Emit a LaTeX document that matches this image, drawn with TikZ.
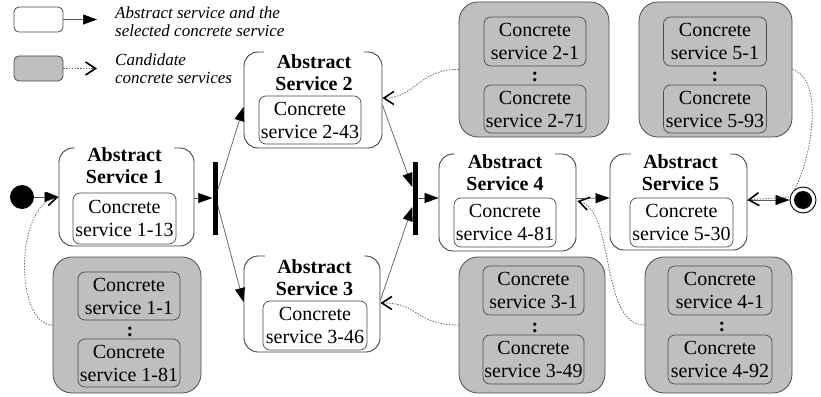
\documentclass[tikz,border=0pt]{standalone}
\usepackage{fontspec}
\setmainfont{Liberation Serif}
\usetikzlibrary{arrows.meta,calc}

\tikzset{
  txt/.style={font=\fontsize{20}{23}\selectfont, align=center, inner sep=0pt},
  absbox/.style={draw=black!75, line width=0.9pt, rounded corners=14pt, fill=white, inner sep=0pt},
  abstitle/.style={txt, font=\bfseries\fontsize{20}{22}\selectfont, fill=white, inner xsep=11pt, inner ysep=4pt},
  concbox/.style={txt, draw=black!70, line width=0.7pt, rounded corners=7pt},
  candbox/.style={draw=black!70, line width=0.8pt, rounded corners=19pt, fill=black!25, inner sep=0pt},
  dots/.style={font=\bfseries\fontsize{20}{20}\selectfont, inner sep=0pt},
  syncbar/.style={fill=black, minimum width=5pt, minimum height=73pt, inner sep=0pt},
  flow/.style={draw=black!65, line width=0.7pt, -{Triangle[length=14pt,width=10pt,fill=black,color=black]}},
  cand/.style={draw=black!60, line width=0.8pt, dash pattern=on 1.4pt off 1.4pt,
    -{Straight Barb[length=10pt,width=13pt,line width=1.6pt,color=black]}},
  legtext/.style={font=\itshape\fontsize{17}{18}\selectfont, align=left, inner sep=0pt, anchor=north west},
}

\begin{document}
\begin{tikzpicture}[x=1pt, y=-1pt]
\useasboundingbox (0,0) rectangle (821,396);

% legend
\node[draw=black!70, line width=0.8pt, rounded corners=5pt, fill=white,
      minimum width=49pt, minimum height=25pt, inner sep=0pt] (legsel) at (38.5,19.5) {};
\coordinate (legseltip) at (97,19.5);
\draw[flow] (legsel) -- (legseltip);
\node[legtext] (legseltxt) at (115,6.4) {Abstract service and the\\selected concrete service};

\node[draw=black!70, line width=0.8pt, rounded corners=5pt, fill=black!25,
      minimum width=49pt, minimum height=25pt, inner sep=0pt] (legcand) at (38.5,68.5) {};
\coordinate (legcandtip) at (97,68.5);
\draw[cand] (legcand) -- (legcandtip);
\node[legtext] (legcandtxt) at (115,53.4) {Candidate\\concrete services};

% initial and final states
\node[circle, fill=black, minimum size=24pt, inner sep=0pt] (start) at (22,197) {};
\node[circle, draw=black, line width=0.9pt, fill=white, minimum size=26pt, inner sep=0pt] (end) at (803,200) {};
\node[circle, fill=black, minimum size=18pt, inner sep=0pt] (endin) at (803,200) {};

% abstract services with their selected concrete service
\node[absbox, minimum width=135pt, minimum height=98pt] (as1) at (126.5,197) {};
\node[abstitle] (as1t) at (124.5,165.2) {Abstract\\Service 1};
\node[concbox, minimum width=103pt, minimum height=51pt] (as1c) at (124.5,218.5) {Concrete\\service 1-13};

\node[absbox, minimum width=138pt, minimum height=96pt] (as2) at (313,100) {};
\node[abstitle] (as2t) at (314,72.2) {Abstract\\Service 2};
\node[concbox, minimum width=102pt, minimum height=48pt] (as2c) at (310,120) {Concrete\\service 2-43};

\node[absbox, minimum width=136pt, minimum height=96pt] (as3) at (312,304) {};
\node[abstitle] (as3t) at (314.5,277.2) {Abstract\\Service 3};
\node[concbox, minimum width=104pt, minimum height=49pt] (as3c) at (315,325.5) {Concrete\\service 3-46};

\node[absbox, minimum width=137pt, minimum height=97pt] (as4) at (507.5,202.5) {};
\node[abstitle] (as4t) at (505,172.7) {Abstract\\Service 4};
\node[concbox, minimum width=102pt, minimum height=49pt] (as4c) at (505,222.5) {Concrete\\service 4-81};

\node[absbox, minimum width=137pt, minimum height=96pt] (as5) at (678.5,202) {};
\node[abstitle] (as5t) at (680.5,173) {Abstract\\Service 5};
\node[concbox, minimum width=103pt, minimum height=49pt] (as5c) at (681.5,222.5) {Concrete\\service 5-30};

% fork and join bars
\node[syncbar] (bar1) at (215,198) {};
\node[syncbar] (bar2) at (415,198) {};

% candidate concrete services
\node[candbox, minimum width=148pt, minimum height=136pt] (g1) at (127,325) {};
\node[concbox, minimum width=102pt, minimum height=48pt] (g1a) at (129,296) {Concrete\\service 1-1};
\node[dots] (g1d) at (130,332) {:};
\node[concbox, minimum width=102pt, minimum height=48pt] (g1b) at (129,363) {Concrete\\service 1-81};

\node[candbox, minimum width=150pt, minimum height=135pt] (g2) at (534,69.5) {};
\node[concbox, minimum width=102pt, minimum height=49pt] (g2a) at (535,41.5) {Concrete\\service 2-1};
\node[dots] (g2d) at (535,77) {:};
\node[concbox, minimum width=102pt, minimum height=48pt] (g2b) at (535,109) {Concrete\\service 2-71};

\node[candbox, minimum width=146pt, minimum height=136pt] (g3) at (532,325) {};
\node[concbox, minimum width=101pt, minimum height=49pt] (g3a) at (533.5,290.5) {Concrete\\service 3-1};
\node[dots] (g3d) at (535,328) {:};
\node[concbox, minimum width=101pt, minimum height=49pt] (g3b) at (533.5,359.5) {Concrete\\service 3-49};

\node[candbox, minimum width=147pt, minimum height=136pt] (g4) at (718.5,325) {};
\node[concbox, minimum width=104pt, minimum height=49pt] (g4a) at (720,290.5) {Concrete\\service 4-1};
\node[dots] (g4d) at (722,327) {:};
\node[concbox, minimum width=104pt, minimum height=49pt] (g4b) at (720,359.5) {Concrete\\service 4-92};

\node[candbox, minimum width=153pt, minimum height=135pt] (g5) at (715.5,69.5) {};
\node[concbox, minimum width=103pt, minimum height=49pt] (g5a) at (715,41.5) {Concrete\\service 5-1};
\node[dots] (g5d) at (715,77) {:};
\node[concbox, minimum width=103pt, minimum height=48pt] (g5b) at (715,109) {Concrete\\service 5-93};

% control flow
\draw[flow] (start) -- (as1.west);
\draw[flow] (as1.east |- bar1.west) -- (bar1.west);
\draw[flow] ($(bar1.east)+(0,-8)$) -- ($(as2.west)+(0,7)$);
\draw[flow] ($(bar1.east)+(0,7)$) -- ($(as3.west)+(0,-2)$);
\draw[flow] ($(as2.east)+(0,5)$) -- ($(bar2.west)+(0,-11)$);
\draw[flow] ($(as3.east)+(0,-4)$) -- ($(bar2.west)+(0,9)$);
\draw[flow] (bar2.east) -- (bar2.east -| as4.west);
\draw[flow] ($(as4.east)+(0,-4)$) -- ($(as5.west)+(0,-4)$);
\draw[flow] (end.west -| as5.east) -- (end.west);

% candidate sets offered to each abstract service
\draw[cand] (g1.west) .. controls +(-38,0) and +(-44,8) .. (as1.west);
\draw[cand] (g2.west) .. controls +(-39,-1) and +(33,0) .. ($(as2.east)+(0,-2)$);
\draw[cand] (g3.west) .. controls +(-44,0) and +(40,0) .. ($(as3.east)+(0,-1)$);
\draw[cand] (g4.west) .. controls +(-45,0) and +(38,9) .. ($(as4.east)+(1,-1.5)$);
\draw[cand] (g5.east) .. controls +(35,10) and +(20,-25) .. ($(end.west)+(0,-3)$) -- ($(as5.east)+(0,-2)$);
\end{tikzpicture}
\end{document}
